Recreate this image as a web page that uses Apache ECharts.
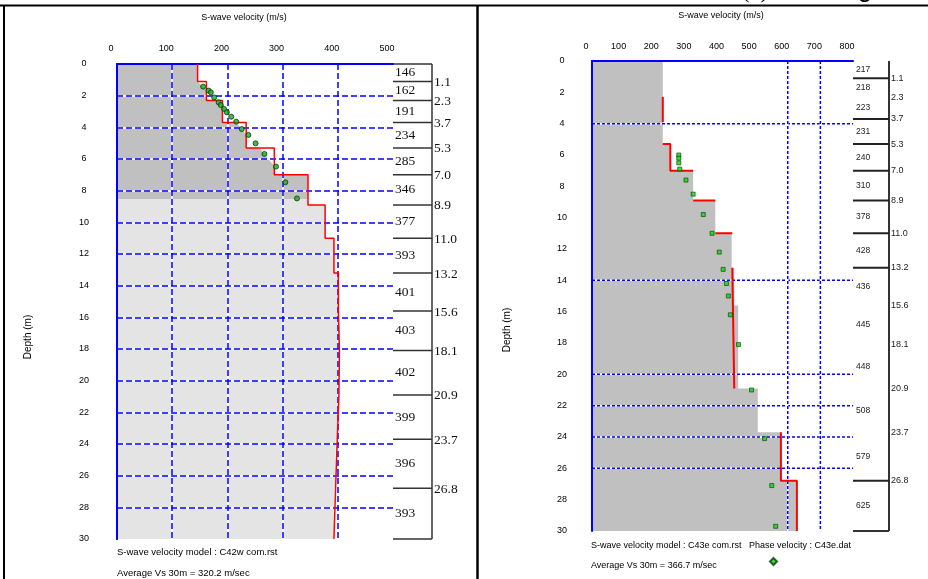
<!DOCTYPE html>
<html><head><meta charset="utf-8">
<script src="https://cdn.jsdelivr.net/npm/echarts/dist/echarts.min.js"></script>
<style>html,body{margin:0;padding:0;background:#fff}#c{width:928px;height:579px}</style>
</head><body><div id="c"></div>
<script>
// ---------------- data ----------------
const layerBounds = [0, 1.1, 2.3, 3.7, 5.3, 7.0, 8.9, 11.0, 13.2, 15.6, 18.1, 20.9, 23.7, 26.8, 30];
const boundaryLabels = ['1.1', '2.3', '3.7', '5.3', '7.0', '8.9', '11.0', '13.2', '15.6', '18.1', '20.9', '23.7', '26.8'];
const xTicks = [0, 100, 200, 300, 400, 500];
const depthTicks = [0, 2, 4, 6, 8, 10, 12, 14, 16, 18, 20, 22, 24, 26, 28, 30];

// left panel
const leftVs = [146, 162, 191, 234, 285, 346, 377, 393, 401, 403, 402, 399, 396, 393];
const leftDispVel = [156, 166, 170, 176, 184, 188, 194, 199, 207, 216, 226, 238, 251, 267, 288, 305, 326];
const leftDispDepth = [1.43, 1.68, 1.79, 2.11, 2.42, 2.59, 2.84, 3.05, 3.33, 3.64, 4.11, 4.48, 5.01, 5.68, 6.48, 7.47, 8.49];
const leftDarkEdgeVel = [146, 146, 150, 156, 162, 162, 181, 184, 188, 191, 191, 216, 226, 234, 234, 258, 267, 285, 285, 346, 346];
const leftDarkEdgeDepth = [0, 1.1, 1.25, 1.43, 1.6, 2.3, 2.3, 2.42, 2.59, 2.75, 3.7, 3.7, 4.11, 4.48, 5.3, 5.3, 5.68, 6.45, 7.0, 7.0, 8.53];
const leftDarkBottom = 8.53;

// right panel
const rightGrayVs = [217, 217, 217, 217, 240, 310, 378, 428, 436, 448, 448, 508, 579, 625];
const rightVsLabels = ['217', '218', '223', '231', '240', '310', '378', '428', '436', '445', '448', '508', '579', '625'];
const rightRedVel = [217, 217, null, 217, 240, 240, 310, null, 310, 378, null, 378, 430, null, 430, 436, 436, null, 579, 579, 628, 628];
const rightRedDepth = [2.3, 3.9, null, 5.3, 5.3, 7.0, 7.0, null, 8.9, 8.9, null, 11.0, 11.0, null, 13.2, 13.2, 20.9, null, 23.7, 26.8, 26.8, 30];
const rightDispVel = [266, 266, 266, 269, 288, 310, 341, 368, 390, 402, 412, 418, 424, 449, 489, 529, 551, 563];
const rightDispDepth = [6.0, 6.2, 6.5, 6.9, 7.6, 8.5, 9.8, 11.0, 12.2, 13.3, 14.2, 15.0, 16.2, 18.1, 21.0, 24.1, 27.1, 29.7];
const rightXTicks = [0, 100, 200, 300, 400, 500, 600, 700, 800];
const rightGridDepths = [4, 14, 20, 22, 24, 26];
const rightGridVels = [600, 700];
const rightBoundaryLines = [1.1, 3.7, 5.3, 7.0, 8.9, 11.0, 13.2, 26.8];

// ---------------- helpers ----------------
const BLUE = '#0000ff';
const SANS = '"Liberation Sans", Arial, sans-serif';
const SERIF = '"Liberation Serif", "Times New Roman", serif';

function stepPath(vs, bounds, startDepth) {
  const pts = [];
  for (let i = 0; i < vs.length; i++) {
    const top = Math.max(bounds[i], startDepth), bot = bounds[i + 1];
    if (bot <= startDepth) continue;
    pts.push([vs[i], top], [vs[i], bot]);
  }
  return pts;
}
function zip(a, b) { return a.map((v, i) => [v, b[i]]); }

function polySeries(xi, yi, pts, color, z) {
  return {
    type: 'custom', xAxisIndex: xi, yAxisIndex: yi, z: z, silent: true, clip: false,
    data: [0],
    renderItem: (params, api) => ({
      type: 'polygon',
      shape: { points: pts.map(p => api.coord(p)) },
      style: { fill: color, stroke: null }
    })
  };
}

const leftRed = stepPath(leftVs, layerBounds, 0);
const leftLight = [[0, leftDarkBottom]].concat(stepPath(leftVs, layerBounds, leftDarkBottom), [[0, 30]]);
const leftDark = [[0, 0]].concat(zip(leftDarkEdgeVel, leftDarkEdgeDepth), [[0, leftDarkBottom]]);
const rightGray = [[0, 0]].concat(stepPath(rightGrayVs, layerBounds, 0), [[0, 30]]);
const rightRed = rightRedVel.map((v, i) => v == null ? '-' : [v, rightRedDepth[i]]);

function axisBase(grid, extra) {
  return Object.assign({
    type: 'value', gridIndex: grid, axisTick: { show: false },
    axisLine: { show: false }, axisLabel: { show: false }, splitLine: { show: false }
  }, extra);
}

const labelStyle = { fontSize: 9, fontFamily: SANS, color: '#000' };

// left box (layer labels)
function leftBoxSeries() {
  return {
    type: 'custom', xAxisIndex: 0, yAxisIndex: 0, z: 20, silent: true, clip: false, data: [0],
    renderItem: (params, api) => {
      const ch = [];
      const top = api.coord([500, 0]), bot = api.coord([500, 30]);
      const bx = top[0] + 39;
      ch.push({ type: 'line', shape: { x1: bx, y1: top[1], x2: bx, y2: bot[1] }, style: { stroke: '#333', lineWidth: 1.5 } });
      ch.push({ type: 'line', shape: { x1: top[0], y1: top[1], x2: bx, y2: top[1] }, style: { stroke: '#333', lineWidth: 1.5 } });
      ch.push({ type: 'line', shape: { x1: top[0], y1: bot[1], x2: bx, y2: bot[1] }, style: { stroke: '#333', lineWidth: 1.5 } });
      for (let i = 0; i < leftVs.length; i++) {
        const mid = api.coord([500, (layerBounds[i] + layerBounds[i + 1]) / 2]);
        ch.push({ type: 'text', x: mid[0] + 1, y: mid[1], style: { text: String(leftVs[i]), fontSize: 13.5, fontFamily: SERIF, fill: '#111', align: 'left', verticalAlign: 'middle', backgroundColor: '#fff', padding: [0, 2, 0, 1] } });
      }
      for (let i = 1; i < layerBounds.length - 1; i++) {
        const p = api.coord([500, layerBounds[i]]);
        ch.push({ type: 'line', shape: { x1: p[0], y1: p[1], x2: bx, y2: p[1] }, style: { stroke: '#333', lineWidth: 1.5 } });
        ch.push({ type: 'text', x: bx + 2, y: p[1] + 1, style: { text: boundaryLabels[i - 1], fontSize: 13.5, fontFamily: SERIF, fill: '#111', align: 'left', verticalAlign: 'middle' } });
      }
      return { type: 'group', children: ch };
    }
  };
}

function rightBoxSeries() {
  return {
    type: 'custom', xAxisIndex: 3, yAxisIndex: 3, z: 20, silent: true, clip: false, data: [0],
    renderItem: (params, api) => {
      const ch = [];
      const top = api.coord([800, 0]), bot = api.coord([800, 30]);
      const bx = top[0] + 36;
      ch.push({ type: 'line', shape: { x1: bx, y1: top[1], x2: bx, y2: bot[1] }, style: { stroke: '#333', lineWidth: 2 } });
      ch.push({ type: 'line', shape: { x1: top[0], y1: bot[1], x2: bx, y2: bot[1] }, style: { stroke: '#333', lineWidth: 2 } });
      rightBoundaryLines.forEach(d => {
        const p = api.coord([800, d]);
        ch.push({ type: 'line', shape: { x1: p[0], y1: p[1], x2: bx, y2: p[1] }, style: { stroke: '#222', lineWidth: 2 } });
      });
      for (let i = 0; i < rightVsLabels.length; i++) {
        const mid = api.coord([800, (layerBounds[i] + layerBounds[i + 1]) / 2]);
        ch.push({ type: 'text', x: mid[0] + 3, y: mid[1], style: { text: rightVsLabels[i], fontSize: 8.5, fontFamily: SANS, fill: '#222', align: 'left', verticalAlign: 'middle' } });
      }
      for (let i = 1; i < layerBounds.length - 1; i++) {
        const p = api.coord([800, layerBounds[i]]);
        ch.push({ type: 'text', x: bx + 2, y: p[1], style: { text: boundaryLabels[i - 1], fontSize: 9, fontFamily: SANS, fill: '#222', align: 'left', verticalAlign: 'middle' } });
      }
      return { type: 'group', children: ch };
    }
  };
}

function rightGridSeries() {
  return {
    type: 'custom', xAxisIndex: 3, yAxisIndex: 3, z: 5, silent: true, clip: false, data: [0],
    renderItem: (params, api) => {
      const ch = [];
      rightGridDepths.forEach(d => {
        const a = api.coord([0, d]), b = api.coord([800, d]);
        ch.push({ type: 'line', shape: { x1: a[0], y1: a[1], x2: b[0], y2: b[1] }, style: { stroke: '#fff', lineWidth: 1.5 } });
        ch.push({ type: 'line', shape: { x1: a[0], y1: a[1], x2: b[0], y2: b[1] }, style: { stroke: BLUE, lineWidth: 1.5, lineDash: [3, 2] } });
      });
      rightGridVels.forEach(v => {
        const a = api.coord([v, 0]), b = api.coord([v, 30]);
        ch.push({ type: 'line', shape: { x1: a[0], y1: a[1], x2: b[0], y2: b[1] }, style: { stroke: '#fff', lineWidth: 1.5 } });
        ch.push({ type: 'line', shape: { x1: a[0], y1: a[1], x2: b[0], y2: b[1] }, style: { stroke: BLUE, lineWidth: 1.5, lineDash: [3, 2] } });
      });
      return { type: 'group', children: ch };
    }
  };
}

const dashSplit = { show: true, showMinLine: false, showMaxLine: false, lineStyle: { color: BLUE, width: 1.5, type: [6, 3] } };
const whiteSplit = { show: true, showMinLine: false, showMaxLine: false, lineStyle: { color: '#fff', width: 1.5, type: 'solid' } };
const blueLine = { show: true, lineStyle: { color: BLUE, width: 2 } };

const option = {
  backgroundColor: '#fff',
  animation: false,
  grid: [
    { left: 117, top: 64, width: 276, height: 475 },
    { left: 592, top: 61, width: 261, height: 470 }
  ],
  xAxis: [
    axisBase(0, { position: 'top', min: 0, max: 500, interval: 100, z: 6, axisLine: blueLine, splitLine: whiteSplit,
      axisLabel: Object.assign({ show: true, margin: 11, padding: [0, 12, 0, 0], formatter: v => xTicks.includes(v) ? String(v) : '' }, labelStyle) }),
    axisBase(0, { position: 'top', min: 0, max: 500, interval: 100, z: 7, splitLine: dashSplit }),
    axisBase(0, { position: 'bottom', min: 0, max: 500, z: 8, axisLine: blueLine }),
    axisBase(1, { position: 'top', min: 0, max: 800, interval: 100, z: 6,
      axisLabel: Object.assign({ show: true, margin: 10, padding: [0, 12, 0, 0], formatter: v => rightXTicks.includes(v) ? String(v) : '' }, labelStyle) }),
    axisBase(1, { position: 'bottom', min: 0, max: 800, z: 8, axisLine: blueLine })
  ],
  yAxis: [
    axisBase(0, { position: 'left', inverse: true, min: 0, max: 30, interval: 2, z: 6, axisLine: blueLine, splitLine: whiteSplit,
      axisLabel: Object.assign({ show: true, margin: 33, align: 'center', formatter: v => depthTicks.includes(v) ? String(v) : '' }, labelStyle) }),
    axisBase(0, { position: 'left', inverse: true, min: 0, max: 30, interval: 2, z: 7, splitLine: dashSplit }),
    axisBase(0, { position: 'right', inverse: true, min: 0, max: 30, z: 8, axisLine: blueLine }),
    axisBase(1, { position: 'left', inverse: true, min: 0, max: 30, interval: 2, z: 6,
      axisLabel: Object.assign({ show: true, margin: 30, align: 'center', formatter: v => depthTicks.includes(v) ? String(v) : '' }, labelStyle) }),
    axisBase(1, { position: 'right', inverse: true, min: 0, max: 30, z: 8, axisLine: blueLine })
  ],
  legend: {
    data: [{ name: 'Observed phase velocity', icon: 'diamond' }],
    left: 764, top: 552, itemWidth: 7, itemHeight: 7, selectedMode: false,
    formatter: () => '', textStyle: { fontSize: 1 }
  },
  series: [
    polySeries(0, 0, leftLight, '#e4e4e4', 1),
    polySeries(0, 0, leftDark, '#c0c0c0', 2),
    {
      type: 'line', name: 'S-wave velocity model', xAxisIndex: 0, yAxisIndex: 0, z: 10, silent: true,
      data: leftRed, showSymbol: false, symbol: 'none', lineStyle: { color: '#ff0000', width: 1.5 }
    },
    {
      type: 'scatter', name: 'Dispersion', xAxisIndex: 0, yAxisIndex: 0, z: 11, silent: true,
      data: zip(leftDispVel, leftDispDepth), symbol: 'circle', symbolSize: 5,
      itemStyle: { color: '#10b010', borderColor: '#113311', borderWidth: 1 }
    },
    polySeries(3, 3, rightGray, '#c0c0c0', 2),
    rightGridSeries(),
    {
      type: 'line', name: 'S-wave model (right)', xAxisIndex: 3, yAxisIndex: 3, z: 10, silent: true,
      data: rightRed, showSymbol: false, symbol: 'none', connectNulls: false, lineStyle: { color: '#ff0000', width: 2 }
    },
    {
      type: 'scatter', name: 'Observed phase velocity', xAxisIndex: 3, yAxisIndex: 3, z: 11, silent: true,
      data: zip(rightDispVel, rightDispDepth), symbol: 'rect', symbolSize: 4,
      itemStyle: { color: '#00e000', borderColor: '#113311', borderWidth: 0.8 }
    },
    leftBoxSeries(),
    rightBoxSeries()
  ],
  graphic: [
    { type: 'line', shape: { x1: 0, y1: 5.5, x2: 928, y2: 5.5 }, style: { stroke: '#000', lineWidth: 2 } },
    { type: 'line', shape: { x1: 4, y1: 5, x2: 4, y2: 579 }, style: { stroke: '#000', lineWidth: 2 } },
    { type: 'line', shape: { x1: 477.5, y1: 5, x2: 477.5, y2: 579 }, style: { stroke: '#000', lineWidth: 2.5 } },
    { type: 'text', x: 755, y: 3, style: { text: '(b)', fontSize: 22, fontFamily: SERIF, fill: '#000', align: 'center', verticalAlign: 'bottom' } },
    { type: 'text', x: 865, y: 3, style: { text: 'g', fontSize: 26, fontFamily: SANS, fill: '#000', align: 'center', verticalAlign: 'bottom' } },
    { type: 'text', x: 244, y: 18, style: { text: 'S-wave velocity (m/s)', fontSize: 9, fontFamily: SANS, fill: '#000', align: 'center', verticalAlign: 'middle' } },
    { type: 'text', x: 28, y: 337, rotation: Math.PI / 2, style: { text: 'Depth (m)', fontSize: 10, fontFamily: SANS, fill: '#000', align: 'center', verticalAlign: 'middle' } },
    { type: 'text', x: 117, y: 552, style: { text: 'S-wave velocity model : C42w com.rst', fontSize: 9.5, fontFamily: SANS, fill: '#000', align: 'left', verticalAlign: 'middle' } },
    { type: 'text', x: 117, y: 573, style: { text: 'Average Vs 30m = 320.2 m/sec', fontSize: 9.5, fontFamily: SANS, fill: '#000', align: 'left', verticalAlign: 'middle' } },
    { type: 'text', x: 721, y: 16, style: { text: 'S-wave velocity (m/s)', fontSize: 9, fontFamily: SANS, fill: '#000', align: 'center', verticalAlign: 'middle' } },
    { type: 'text', x: 507, y: 330, rotation: Math.PI / 2, style: { text: 'Depth (m)', fontSize: 10, fontFamily: SANS, fill: '#000', align: 'center', verticalAlign: 'middle' } },
    { type: 'text', x: 591, y: 546, style: { text: 'S-wave velocity model : C43e com.rst   Phase velocity : C43e.dat', fontSize: 9, fontFamily: SANS, fill: '#000', align: 'left', verticalAlign: 'middle' } },
    { type: 'text', x: 591, y: 566, style: { text: 'Average Vs 30m = 366.7 m/sec', fontSize: 9, fontFamily: SANS, fill: '#000', align: 'left', verticalAlign: 'middle' } }
  ]
};

const chart = echarts.init(document.getElementById('c'));
chart.setOption(option);
</script>
</body></html>
